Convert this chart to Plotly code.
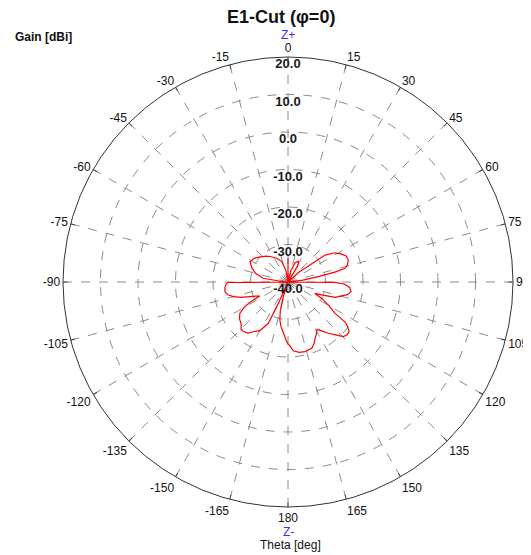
import plotly.graph_objects as go

# ---- data ----
theta_deg = [-180, -178.7, -175, -171, -168, -165, -162, -160, -157, -155.5, -154.5,
             -150, -145, -142, -138, -135, -132, -127, -123, -120, -118, -116.5,
             -114, -111, -108, -105, -102, -98.7, -95, -92, -90.5, -89, -86,
             -84, -81.5, -75, -69, -62, -55, -48, -40, -35, -25, -17, -10, -5,
             -1, 0, 1, 10, 14, 20, 27, 31, 35, 44, 48, 51, 54, 58, 62, 66, 70,
             74, 76.5, 78, 80, 83, 86, 89, 90.5, 92, 95, 98.7, 102, 105, 108,
             111, 113, 116, 120, 123.7, 125, 126.5, 129, 132, 134.7, 138, 141.8,
             145, 148.5, 152, 154.4, 157, 160.3, 166.3, 171, 175.6, 179, 180]
gain_dbi = [-23.5, -24.1, -26.3, -28.0, -29.6, -32.0, -36.0, -40, -40, -33, -27.8,
            -25.0, -23.8, -22.7, -22.2, -22.3, -23.2, -23.8, -24.7, -26.5, -28.5, -31.6,
            -30.8, -29.1, -26.8, -24.9, -23.6, -23.0, -23.1, -23.5, -24.0, -40, -40,
            -38, -33.3, -31, -29.7, -28.5, -29, -30, -31, -31.7, -33, -34.3, -37, -40,
            -40, -33.7, -40, -40, -37, -34.5, -33.7, -35, -40, -40, -36, -34.2, -27.8, -25.3, -24, -23, -22.9,
            -23.5, -24.4, -27, -31.8, -36, -40, -40, -27.5, -25, -23.5, -23, -23.8, -25.5, -26.8,
            -30.4, -32.2, -30, -27.5, -24.9, -21.5, -20.3, -19.0, -18.9, -19.3, -21, -22.6,
            -24, -25.2, -24, -23.3, -22.2, -21.2, -20.9, -21.0, -21.6, -23.2, -23.5]

radial_ticks = [20, 10, 0, -10, -20, -30, -40]
radial_tick_text = ["20.0", "10.0", "0.0", "-10.0", "-20.0", "-30.0", "-40.0"]

angle_ticks = list(range(0, 360, 15))
angle_tick_text = [str(a) if a <= 180 else str(a - 360) for a in angle_ticks]

title_text = "E1-Cut (φ=0)"
radial_title = "Gain [dBi]"
angular_title = "Theta [deg]"

FONT = "Liberation Sans, Arial, sans-serif"

# the page body has an 8px margin; the figure is sized so it fits the window
W, H, OFF = 523, 547, 8


def px(x):
    return (x - OFF) / W


def py(y):
    return 1 - (y - OFF) / H


fig = go.Figure()

fig.add_trace(go.Scatterpolar(
    r=gain_dbi, theta=theta_deg, mode="lines",
    line=dict(color="#ff0000", width=1.2),
    hoverinfo="skip", showlegend=False,
))

fig.add_trace(go.Scatterpolar(
    r=radial_ticks, theta=[0] * len(radial_ticks), mode="markers+text",
    marker=dict(size=1, color="rgba(0,0,0,0)"),
    text=radial_tick_text, textposition="bottom center",
    textfont=dict(family=FONT, size=13, color="#1a1a1a", weight="bold"),
    cliponaxis=False, hoverinfo="skip", showlegend=False,
))

fig.update_layout(
    width=W, height=H,
    margin=dict(l=0, r=0, t=0, b=0),
    paper_bgcolor="white",
    plot_bgcolor="white",
    font=dict(family=FONT, size=12, color="#000000"),
    polar=dict(
        domain=dict(x=[px(63), px(513)], y=[py(507), py(57)]),
        bgcolor="white",
        radialaxis=dict(
            range=[-40, 20], tick0=-40, dtick=10,
            showticklabels=False, ticks="", showline=False,
            gridcolor="#8c8c8c", griddash="dash", gridwidth=1,
            angle=90,
        ),
        angularaxis=dict(
            rotation=90, direction="clockwise",
            tickmode="array", tickvals=angle_ticks, ticktext=angle_tick_text,
            tickfont=dict(family=FONT, size=12, color="#111111"),
            ticks="inside", ticklen=4, tickcolor="#444444",
            showline=True, linecolor="#333333", linewidth=1,
            gridcolor="#8c8c8c", griddash="dash", gridwidth=1,
        ),
    ),
    annotations=[
        dict(text="<b>" + title_text + "</b>", x=px(281), y=py(17),
             xref="paper", yref="paper", showarrow=False,
             xanchor="center", yanchor="middle",
             font=dict(family=FONT, size=18, color="#111111")),
        dict(text="<b>" + radial_title + "</b>", x=px(13), y=py(37),
             xref="paper", yref="paper", showarrow=False,
             xanchor="left", yanchor="middle",
             font=dict(family=FONT, size=12, color="#111111")),
        dict(text="Z+", x=px(288), y=py(35),
             xref="paper", yref="paper", showarrow=False,
             xanchor="center", yanchor="middle",
             font=dict(family=FONT, size=12, color="#3333ff")),
        dict(text="Z-", x=px(288), y=py(532),
             xref="paper", yref="paper", showarrow=False,
             xanchor="center", yanchor="middle",
             font=dict(family=FONT, size=12, color="#3333ff")),
        dict(text=angular_title, x=px(290), y=py(545),
             xref="paper", yref="paper", showarrow=False,
             xanchor="center", yanchor="middle",
             font=dict(family=FONT, size=12, color="#111111")),
    ],
)

fig.write_html("out.html")
